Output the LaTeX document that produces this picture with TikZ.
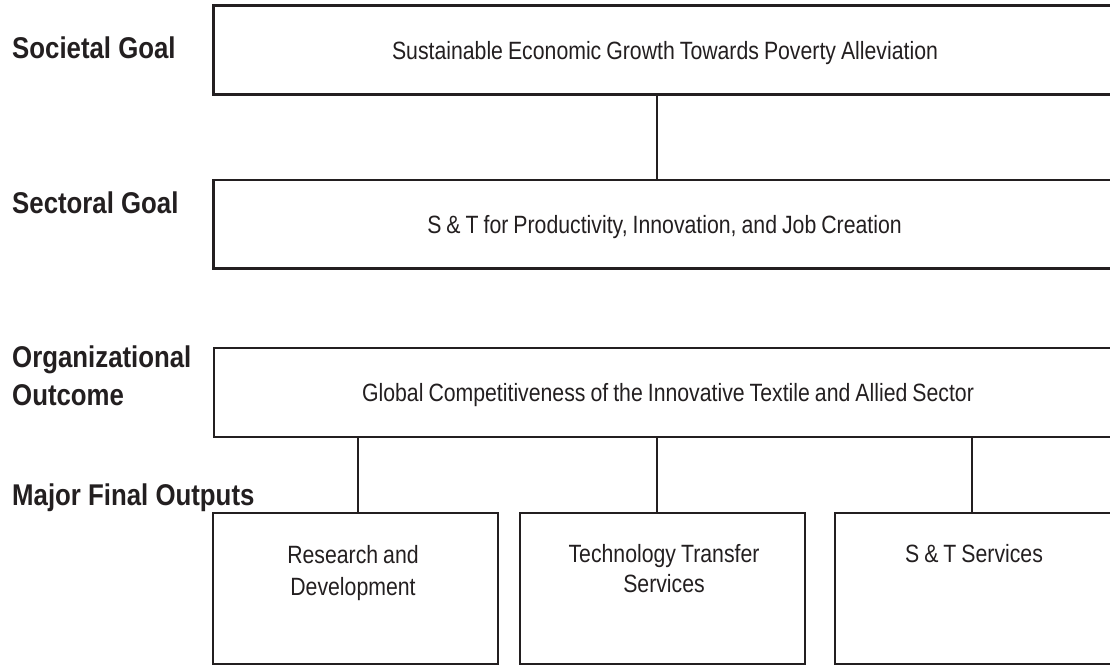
\documentclass[tikz,border=0pt]{standalone}
\usepackage{fontspec}
\setmainfont{Liberation Sans}[FakeStretch=0.86]
\newfontfamily\boxfont{Liberation Sans}[FakeStretch=0.85, WordSpace=0.85]
\definecolor{ink}{HTML}{231F20}
\tikzset{
  box/.style={draw=ink, fill=none, inner sep=0pt, outer sep=0pt, anchor=center},
  thickbox/.style={box, line width=2.5pt},
  thinbox/.style={box, line width=2pt},
  link/.style={draw=ink, line width=2pt},
  txt/.style={text=ink, inner sep=0pt, anchor=base, font=\boxfont\fontsize{25}{32}\selectfont, align=center},
  lab/.style={text=ink, inner sep=0pt, anchor=base west, font=\fontsize{30}{38}\selectfont\bfseries, align=left},
}
\begin{document}
\begin{tikzpicture}[x=1pt, y=-1pt]
\useasboundingbox (0,0) rectangle (1110,665);
\clip (0,0) rectangle (1110,665);
% boxes
\node[thickbox, minimum width=900pt, minimum height=89pt] (soc) at (663.5,50) {};
\node[thickbox, minimum width=900pt, minimum height=88.5pt] (sec) at (663.5,224.25) {};
\node[thinbox, minimum width=900pt, minimum height=89pt] (org) at (663.5,392.5) {};
\node[thinbox, minimum width=285pt, minimum height=151pt] (rd) at (355.8,588) {};
\node[thinbox, minimum width=285pt, minimum height=151pt] (tt) at (662.8,588) {};
\node[thinbox, minimum width=285pt, minimum height=151pt] (st) at (977,588) {};
% connectors
\coordinate (socb) at (657,94.5);
\coordinate (sectop) at (657,180);
\draw[link] (socb) -- (sectop);
\coordinate (o1) at (358,437); \coordinate (r1) at (358,512.5);
\coordinate (o2) at (657.3,437); \coordinate (r2) at (657.3,512.5);
\coordinate (o3) at (972.2,437); \coordinate (r3) at (972.2,512.5);
\draw[link] (o1) -- (r1);
\draw[link] (o2) -- (r2);
\draw[link] (o3) -- (r3);
% box texts
\node[txt] (soct) at (665,59) {Sustainable Economic Growth Towards Poverty Alleviation};
\node[txt] (sectxt) at (664.5,233.5) {S \& T for Productivity, Innovation, and Job Creation};
\node[txt] (orgt) at (668,401.5) {Global Competitiveness of the Innovative Textile and Allied Sector};
\node[txt] (rdt1) at (353,563) {Research and};
\node[txt] (rdt2) at (353,595) {Development};
\node[txt] (ttt1) at (664,562) {Technology Transfer};
\node[txt] (ttt2) at (664,592) {Services};
\node[txt] (stt) at (974,562) {S \& T Services};
% left labels
\node[lab] (l1) at (12,58) {Societal Goal};
\node[lab] (l2) at (12,213) {Sectoral Goal};
\node[lab] (l3) at (12,367) {Organizational};
\node[lab] (l3b) at (12,405) {Outcome};
\node[lab] (l4) at (12,505) {Major Final Outputs};
\end{tikzpicture}
\end{document}
